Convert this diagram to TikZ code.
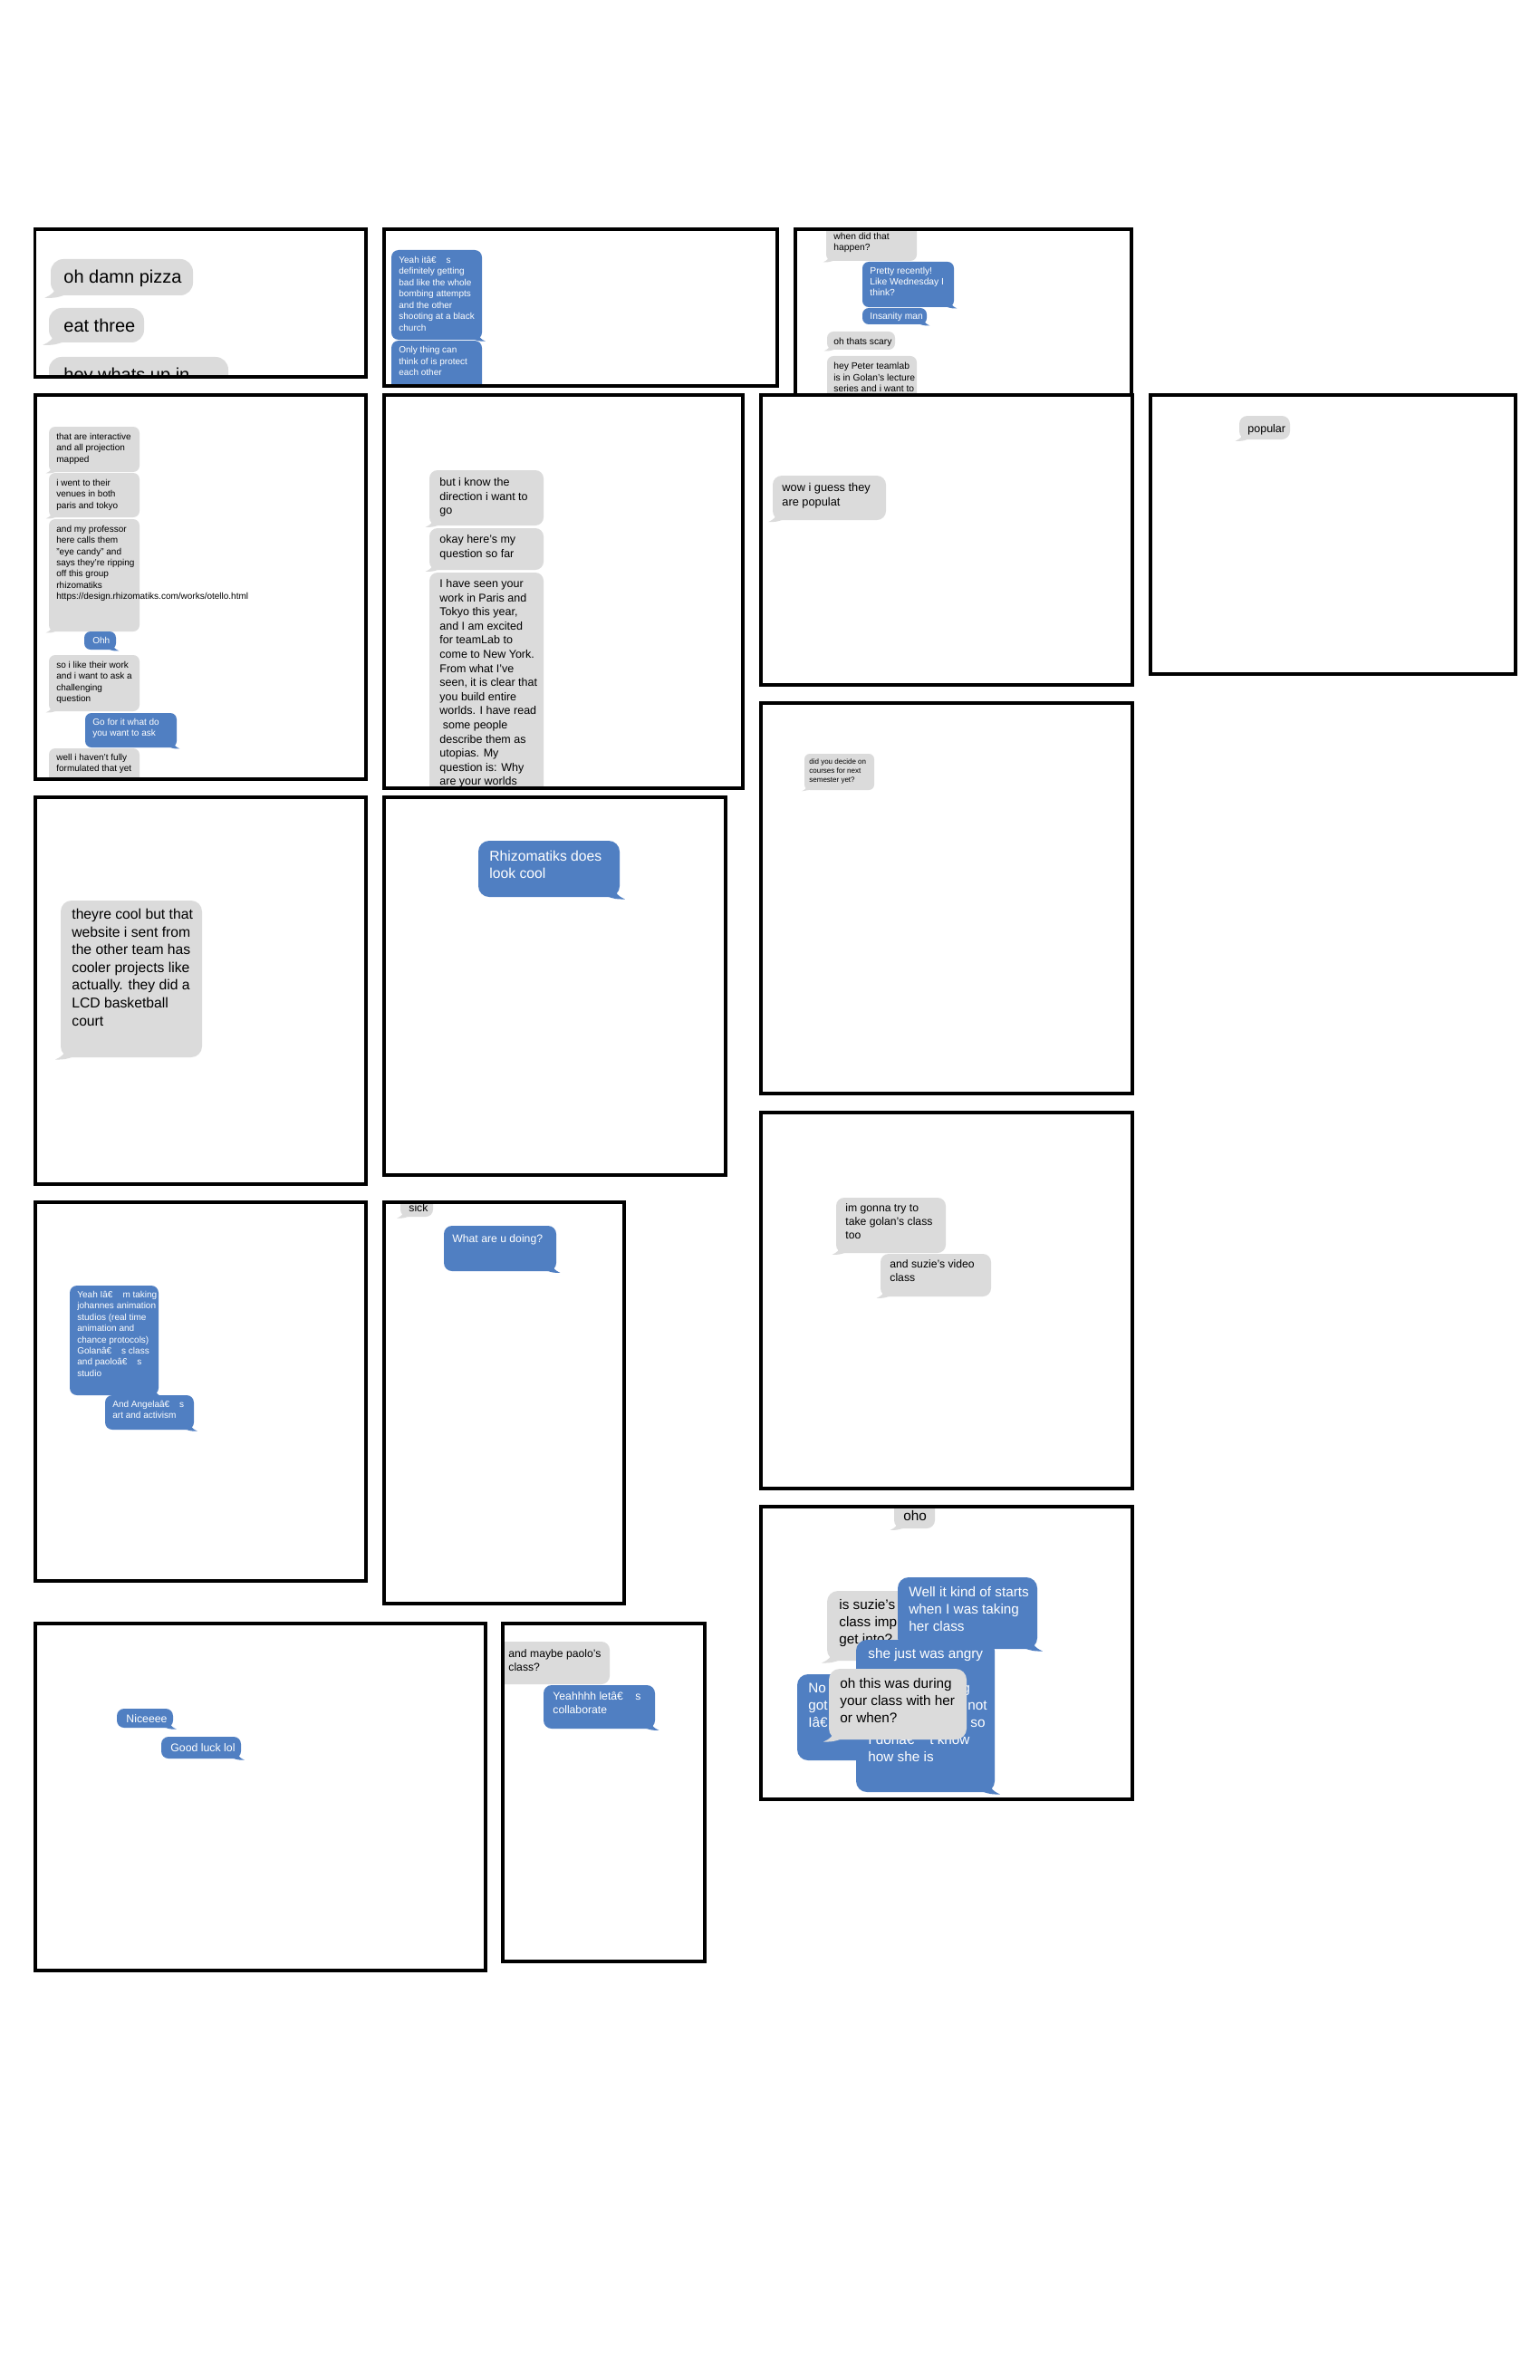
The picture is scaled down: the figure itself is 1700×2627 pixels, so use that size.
\documentclass[tikz,border=0pt]{standalone}
\usepackage{fontspec}
\setmainfont{Liberation Sans}
\definecolor{gbc}{RGB}{219,219,219}
\definecolor{bbc}{RGB}{80,127,194}
\tikzset{frm/.style={draw=black, line width=1.7pt}}
\newcommand\gbub[5]{%
  \pgfmathsetmacro\rr{#5*0.5}%
  \pgfmathsetmacro\tl{#5*0.7}%
  \fill[gbc, rounded corners=\rr pt] (#1,#2) rectangle (#3,#4);
  \fill[gbc] ({#1+\tl},{#4-1.6*\tl}) .. controls ({#1+0.3*\tl},{#4-0.2*\tl}) .. ({#1-0.7*\tl},{#4+0.3*\tl}) .. controls ({#1+0.5*\tl},{#4+0.3*\tl}) .. ({#1+1.8*\tl},{#4-0.1*\tl}) -- cycle;
}
\newcommand\bbub[5]{%
  \pgfmathsetmacro\rr{#5*0.5}%
  \pgfmathsetmacro\tl{#5*0.7}%
  \fill[bbc, rounded corners=\rr pt] (#1,#2) rectangle (#3,#4);
  \fill[bbc] ({#3-\tl},{#4-1.6*\tl}) .. controls ({#3-0.3*\tl},{#4-0.2*\tl}) .. ({#3+0.7*\tl},{#4+0.3*\tl}) .. controls ({#3-0.5*\tl},{#4+0.3*\tl}) .. ({#3-1.8*\tl},{#4-0.1*\tl}) -- cycle;
}
\newcommand\chatmsg[7]{%
  \pgfmathsetmacro\fsz{#5*0.5}%
  \foreach \mtxt [count=\i from 0] in {#7} {
    \node[anchor=base west, inner sep=0pt, text=#6, font=\fontsize{\fsz}{\fsz}\selectfont] (#1\i) at (#2,{#3+\i*#4}) {\mtxt};
  }
}
\begin{document}
\begin{tikzpicture}[x=0.5pt, y=-0.5pt]
\fill[white] (0,0) rectangle (1700,2627);
\useasboundingbox (0,0) rectangle (1700,2627);

% F1
\begin{scope}
\clip (38.5,253) rectangle (404,416);
\gbub{56}{286}{213}{326}{14}
\chatmsg{fa}{70}{313}{0}{20}{black}{{oh damn pizza}}
\gbub{54}{340}{159}{378}{14}
\chatmsg{fb}{70}{366}{0}{20}{black}{{eat three}}
\gbub{54}{394}{252}{440}{14}
\chatmsg{fc}{70}{421}{0}{20}{black}{{hey whats up in}}
\end{scope}
\draw[frm] (38.5,253) rectangle (404,416);

% F2
\begin{scope}
\clip (424,253) rectangle (858,426);
\bbub{432}{276}{532}{375}{8}
\chatmsg{fd}{440}{290.5}{12.5}{10}{white}{{Yeah itâ€\hspace{1.1em}s},{definitely getting},{bad like the whole},{bombing attempts},{and the other},{shooting at a black},{church}}
\bbub{432}{376}{532}{445}{8}
\chatmsg{fe}{440}{389.5}{12.6}{10}{white}{{Only thing can},{think of is protect},{each other}}
\end{scope}
\draw[frm] (424,253) rectangle (858,426);

% F3
\begin{scope}
\clip (878,253) rectangle (1249,436);
\gbub{912}{235}{1012}{288}{7}
\chatmsg{ff}{920}{264.5}{12}{10.3}{black}{{when did that},{happen?}}
\bbub{952}{289}{1053}{339}{7}
\chatmsg{fg}{960}{302.5}{12}{10.3}{white}{{Pretty recently!},{Like Wednesday I},{think?}}
\bbub{952}{340}{1023}{358}{7}
\chatmsg{fh}{960}{352.5}{0}{10.3}{white}{{Insanity man}}
\gbub{913}{366}{988}{386}{7}
\chatmsg{fi}{920}{380.5}{0}{10.3}{black}{{oh thats scary}}
\gbub{913}{393}{1012}{450}{7}
\chatmsg{fj}{920}{407.5}{12.5}{10.3}{black}{{hey Peter teamlab},{is in Golan's lecture},{series and i want to}}
\end{scope}
\draw[frm] (878,253) rectangle (1249,436);

% F4
\begin{scope}
\clip (39,436) rectangle (404,860);
\gbub{54}{471}{154}{521}{7}
\chatmsg{fk}{62}{485.5}{12.4}{10}{black}{{that are interactive},{and all projection},{mapped}}
\gbub{54}{522}{154}{571}{7}
\chatmsg{fl}{62}{536.5}{12.4}{10}{black}{{i went to their},{venues in both},{paris and tokyo}}
\gbub{54}{573}{154}{697}{7}
\chatmsg{fm}{62}{587.5}{12.3}{10}{black}{{and my professor},{here calls them},{"eye candy" and},{says they're ripping},{off this group},{rhizomatiks},{https://design.rhizomatiks.com/works/otello.html}}
\bbub{93}{697}{128}{717}{7}
\chatmsg{fn}{102}{710.5}{0}{10}{white}{{Ohh}}
\gbub{54}{723}{154}{785}{7}
\chatmsg{fo}{62}{737.5}{12.4}{10}{black}{{so i like their work},{and i want to ask a},{challenging},{question}}
\bbub{94}{787}{195}{825}{7}
\chatmsg{fp}{102}{800.5}{12.4}{10}{white}{{Go for it what do},{you want to ask}}
\gbub{54}{826}{154}{885}{7}
\chatmsg{fq}{62}{839.5}{12.4}{10}{black}{{well i haven't fully},{formulated that yet}}
\end{scope}
\draw[frm] (39,436) rectangle (404,860);

% F5
\begin{scope}
\clip (424,436) rectangle (820,870);
\gbub{474}{519}{600}{580}{9}
\chatmsg{fr}{485}{536.4}{15.6}{12.5}{black}{{but i know the},{direction i want to},{go}}
\gbub{474}{583}{600}{629}{9}
\chatmsg{fs}{485}{599.4}{15.6}{12.5}{black}{{okay here's my},{question so far}}
\gbub{474}{632}{600}{900}{9}
\chatmsg{ft}{485}{648.4}{15.6}{12.5}{black}{{I have seen your},{work in Paris and},{Tokyo this year,},{and I am excited},{for teamLab to},{come to New York.},{From what I've},{seen, it is clear that},{you build entire},{worlds. I have read},{\hspace{1.7pt}some people},{describe them as},{utopias. My},{question is: Why},{are your worlds}}
\end{scope}
\draw[frm] (424,436) rectangle (820,870);

% F6
\begin{scope}
\clip (840,436) rectangle (1250,756);
\gbub{853}{525}{978}{574}{10}
\chatmsg{fu}{863}{542.5}{16}{12.8}{black}{{wow i guess they},{are populat}}
\end{scope}
\draw[frm] (840,436) rectangle (1250,756);

% F7
\begin{scope}
\clip (1270,436) rectangle (1673,744);
\gbub{1368}{459}{1424}{485}{9}
\chatmsg{fv}{1377}{477.4}{0}{12.5}{black}{{popular}}
\end{scope}
\draw[frm] (1270,436) rectangle (1673,744);

% F8
\begin{scope}
\clip (840,776) rectangle (1250,1207);
\gbub{888}{832}{965}{872}{6}
\chatmsg{fw}{893}{843.8}{9.7}{8}{black}{{did you decide on},{courses for next},{semester yet?}}
\end{scope}
\draw[frm] (840,776) rectangle (1250,1207);

% F9
\begin{scope}
\clip (39,880) rectangle (404,1307);
\gbub{67}{994}{223}{1167}{12}
\chatmsg{fx}{79}{1014.5}{19.6}{15.7}{black}{{theyre cool but that},{website i sent from},{the other team has},{cooler projects like},{actually. they did a},{LCD basketball},{court}}
\end{scope}
\draw[frm] (39,880) rectangle (404,1307);

% F10
\begin{scope}
\clip (424,880) rectangle (801,1297);
\bbub{528}{928}{684}{990}{12}
\chatmsg{fy}{540}{950.5}{19}{15.7}{white}{{Rhizomatiks does},{look cool}}
\end{scope}
\draw[frm] (424,880) rectangle (801,1297);

% F11
\begin{scope}
\clip (840,1228) rectangle (1250,1643);
\gbub{923}{1322}{1044}{1383}{9}
\chatmsg{fz}{933}{1337.3}{15}{12.2}{black}{{im gonna try to},{take golan's class},{too}}
\gbub{972}{1384}{1094}{1431}{9}
\chatmsg{ga}{982}{1399.3}{15}{12.2}{black}{{and suzie's video},{class}}
\end{scope}
\draw[frm] (840,1228) rectangle (1250,1643);

% F12
\begin{scope}
\clip (39,1327) rectangle (404,1745);
\bbub{77}{1419}{175}{1540}{8}
\chatmsg{gb}{85}{1432.5}{12.4}{10}{white}{{Yeah Iâ€\hspace{1.1em}m taking},{johannes animation},{studios (real time},{animation and},{chance protocols)},{Golanâ€\hspace{1.1em}s class},{and paoloâ€\hspace{1.1em}s},{studio}}
\bbub{116}{1540}{214}{1578}{8}
\chatmsg{gc}{124}{1553.5}{12.4}{10}{white}{{And Angelaâ€\hspace{1.1em}s},{art and activism}}
\end{scope}
\draw[frm] (39,1327) rectangle (404,1745);

% F13
\begin{scope}
\clip (424,1327) rectangle (689,1770);
\gbub{442}{1310}{478}{1343}{8}
\chatmsg{gd}{451}{1337.3}{0}{12.2}{black}{{sick}}
\bbub{490}{1353}{614}{1403}{9}
\chatmsg{ge}{499}{1371.3}{0}{12.2}{white}{{What are u doing?}}
\end{scope}
\draw[frm] (424,1327) rectangle (689,1770);

% F14
\begin{scope}
\clip (840,1663) rectangle (1250,1986);
\gbub{987}{1650}{1032}{1687}{9}
\chatmsg{gf}{997}{1678.4}{0}{15.3}{black}{{oho}}
\gbub{913}{1756}{1080}{1833}{12}
\chatmsg{gg}{926}{1776.4}{19}{15.3}{black}{{is suzie's},{class imp},{get into?}}
\bbub{991}{1741}{1145}{1820}{12}
\chatmsg{gh}{1003}{1762.4}{19}{15.3}{white}{{Well it kind of starts},{when I was taking},{her class}}
\fill[bbc, rounded corners=6pt] (880,1848) rectangle (990,1943);
\chatmsg{gi}{892}{1868.4}{19}{15.3}{white}{{No},{got},{Iâ€}}
\bbub{945}{1810}{1098}{1978}{12}
\chatmsg{gj}{958}{1830.4}{0}{15.3}{white}{{she just was angry}}
\chatmsg{gk}{1062}{1868.4}{0}{15.3}{white}{{g}}
\chatmsg{gl}{1068}{1887.4}{0}{15.3}{white}{{not}}
\chatmsg{gm}{1071}{1906.4}{0}{15.3}{white}{{so}}
\chatmsg{gn}{958}{1925.4}{19}{15.3}{white}{{I donâ€\hspace{1.1em}t know},{how she is}}
\gbub{915}{1842}{1067}{1920}{12}
\chatmsg{go}{927}{1863.4}{19}{15.3}{black}{{oh this was during},{your class with her},{or when?}}
\end{scope}
\draw[frm] (840,1663) rectangle (1250,1986);

% F15
\begin{scope}
\clip (39,1792) rectangle (536,2175);
\bbub{129}{1886}{191}{1907}{8}
\chatmsg{gp}{139}{1901.3}{0}{12.3}{white}{{Niceeee}}
\bbub{178}{1917}{266}{1941}{8}
\chatmsg{gq}{188}{1933.3}{0}{12.3}{white}{{Good luck lol}}
\end{scope}
\draw[frm] (39,1792) rectangle (536,2175);

% F16
\begin{scope}
\clip (555,1792) rectangle (778,2165);
\gbub{540}{1812}{673}{1859}{9}
\chatmsg{gr}{561}{1829.3}{15}{12.2}{black}{{and maybe paolo's},{class?}}
\bbub{600}{1860}{723}{1908}{9}
\chatmsg{gs}{610}{1876.3}{15}{12.2}{white}{{Yeahhhh letâ€\hspace{1.1em}s},{collaborate}}
\end{scope}
\draw[frm] (555,1792) rectangle (778,2165);
\end{tikzpicture}
\end{document}
